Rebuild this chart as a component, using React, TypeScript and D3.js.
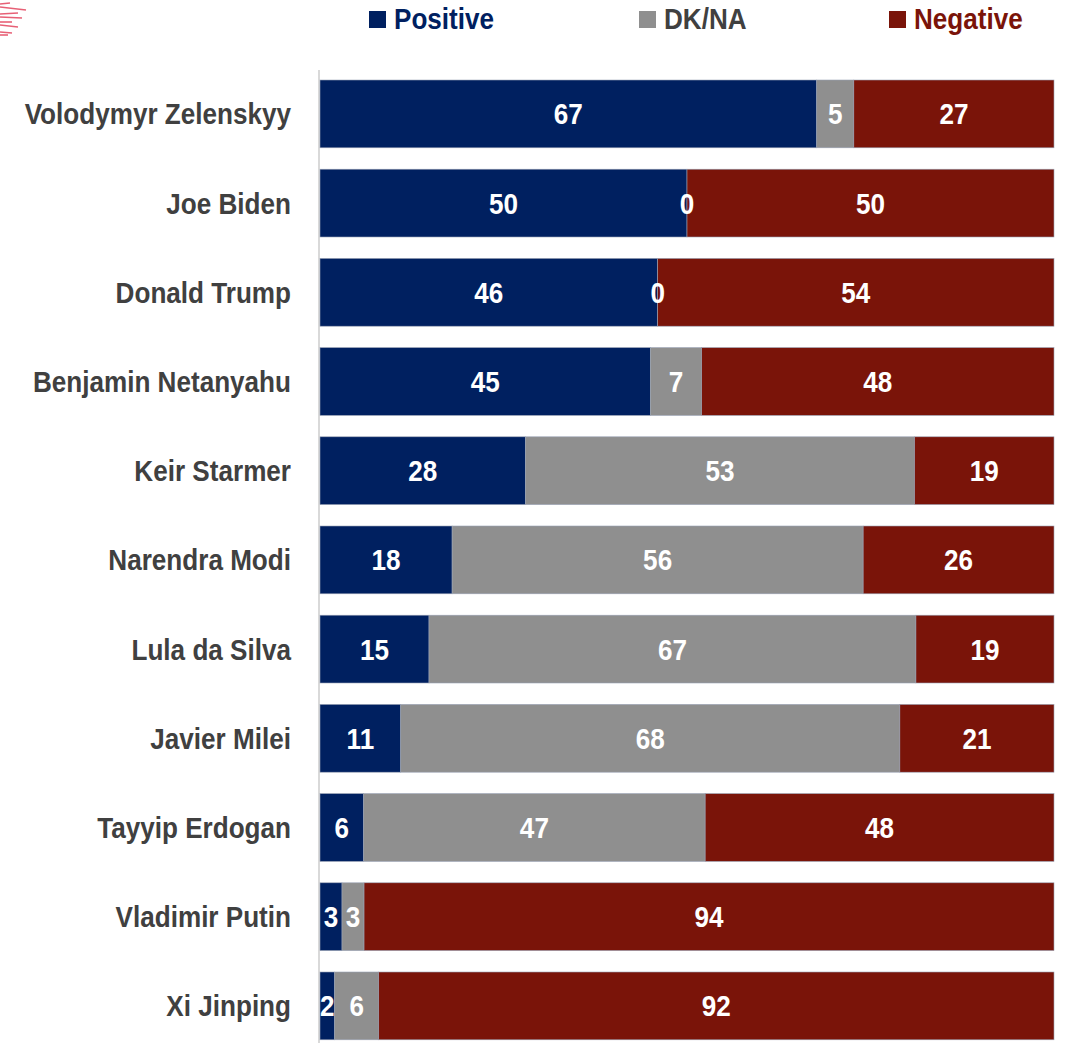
import { useEffect, useRef } from "react";
import * as d3 from "d3";

const leaders = [
  "Volodymyr Zelenskyy",
  "Joe Biden",
  "Donald Trump",
  "Benjamin Netanyahu",
  "Keir Starmer",
  "Narendra Modi",
  "Lula da Silva",
  "Javier Milei",
  "Tayyip Erdogan",
  "Vladimir Putin",
  "Xi Jinping",
];
const positive = [67, 50, 46, 45, 28, 18, 15, 11, 6, 3, 2];
const dkna = [5, 0, 0, 7, 53, 56, 67, 68, 47, 3, 6];
const negative = [27, 50, 54, 48, 19, 26, 19, 21, 48, 94, 92];

const seriesNames = ["Positive", "DK/NA", "Negative"];
const colors = ["#002060", "#8f8f8f", "#7a1409"];
const legendText = ["#002060", "#404040", "#7a1409"];

const FONT = "'Liberation Sans Narrow', 'Arial Narrow', 'Liberation Sans', Arial, sans-serif";
const FS = "29px";
const SX = 0.9;

export default function App() {
  const svgRef = useRef<SVGSVGElement>(null);

  useEffect(() => {
    if (!svgRef.current) return;
    const svg = d3.select(svgRef.current);
    svg.selectAll("*").remove();

    const width = 1066;
    const height = 1043;
    const x0 = 320;
    const x1 = 1054;

    const y = d3
      .scaleBand<string>()
      .domain(leaders)
      .range([69.3, 1050.5])
      .paddingInner(0.24)
      .paddingOuter(0.12);

    // decorative streaks top-left
    const streaks = [
      [0, 4, 10, 3], [0, 7, 26, 10],
      [0, 14, 18, 13], [0, 17, 22, 18],
      [0, 22, 12, 22], [0, 25, 18, 27],
      [0, 32, 12, 33], [0, 35, 8, 35],
    ];
    svg
      .append("g")
      .selectAll("line")
      .data(streaks)
      .enter()
      .append("line")
      .attr("x1", (d) => d[0])
      .attr("y1", (d) => d[1])
      .attr("x2", (d) => d[2])
      .attr("y2", (d) => d[3])
      .attr("stroke", "#e23a55")
      .attr("stroke-width", 1.6)
      .attr("opacity", 0.8);

    const addText = (
      parent: d3.Selection<any, unknown, null, undefined>,
      tx: number,
      ty: number,
      anchor: string,
      fill: string,
      label: string | number
    ) =>
      parent
        .append("text")
        .attr("transform", `translate(${tx},${ty}) scale(${SX},1)`)
        .attr("dy", "0.36em")
        .attr("text-anchor", anchor)
        .attr("fill", fill)
        .style("font-family", FONT)
        .style("font-weight", "bold")
        .style("font-size", FS)
        .text(label);

    // legend
    const legendX = [369, 639, 889];
    const legend = svg.append("g");
    seriesNames.forEach((name, i) => {
      legend
        .append("rect")
        .attr("x", legendX[i])
        .attr("y", 11)
        .attr("width", 17)
        .attr("height", 17)
        .attr("fill", colors[i]);
      addText(legend, legendX[i] + 25, 19, "start", legendText[i], name);
    });

    // axis line
    svg
      .append("line")
      .attr("x1", x0 - 1)
      .attr("x2", x0 - 1)
      .attr("y1", 70)
      .attr("y2", height)
      .attr("stroke", "#d9d9d9")
      .attr("stroke-width", 2);

    const rows = svg.append("g");
    leaders.forEach((name, i) => {
      const vals = [positive[i], dkna[i], negative[i]];
      const total = d3.sum(vals);
      const x = d3.scaleLinear().domain([0, total]).range([x0, x1]);
      const by = y(name)!;
      const bh = y.bandwidth();
      let acc = 0;
      const g = rows.append("g");
      vals.forEach((v, j) => {
        const start = acc;
        acc += v;
        g.append("rect")
          .attr("x", x(start))
          .attr("y", by)
          .attr("width", x(acc) - x(start))
          .attr("height", bh)
          .attr("fill", colors[j])
          .attr("stroke", "#9aa3b5")
          .attr("stroke-width", 0.6);
      });
      acc = 0;
      vals.forEach((v) => {
        const start = acc;
        acc += v;
        addText(g, (x(start) + x(acc)) / 2, by + bh / 2, "middle", "#ffffff", v);
      });
      addText(g, 291, by + bh / 2, "end", "#404040", name);
    });

    svg.attr("width", width).attr("height", height);
  }, []);

  return (
    <svg
      ref={svgRef}
      style={{ position: "absolute", left: 0, top: 0, display: "block", background: "#fff" }}
    ></svg>
  );
}
